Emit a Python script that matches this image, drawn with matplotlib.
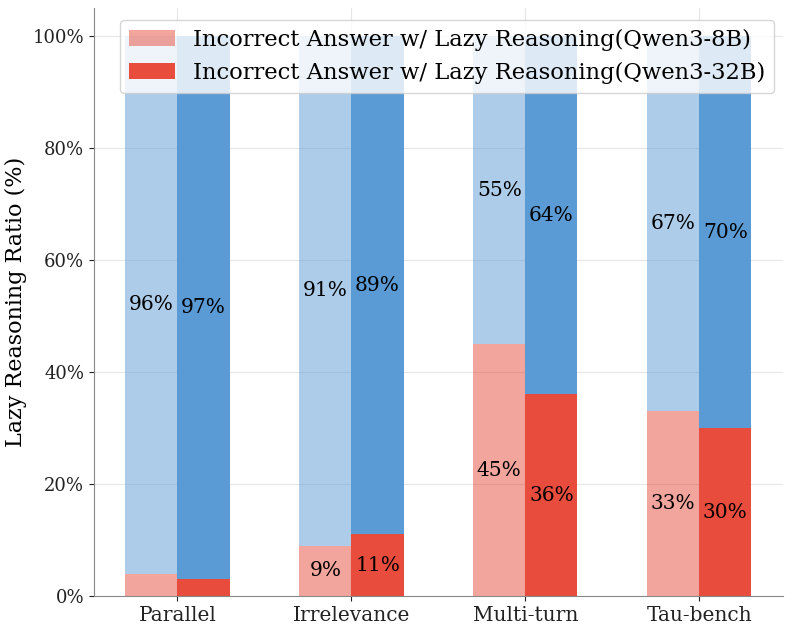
import numpy as np
import matplotlib.pyplot as plt

plt.rcParams['font.family'] = 'DejaVu Serif'

categories = ['Parallel', 'Irrelevance', 'Multi-turn', 'Tau-bench']
incorrect_8b = [4, 9, 45, 33]
incorrect_32b = [3, 11, 36, 30]
lazy_8b = [96, 91, 55, 67]
lazy_32b = [97, 89, 64, 70]

red = '#E74C3C'
blue = '#5B9BD5'


def main():
    x = np.arange(len(categories))
    w = 0.3
    fig, ax = plt.subplots(figsize=(7.93, 6.32), dpi=100)
    fig.subplots_adjust(left=0.1185, right=0.987, bottom=0.057, top=0.987)
    ax.set_axisbelow(True)
    ax.grid(True, color='#e6e6e6', linewidth=0.8)

    b1 = ax.bar(x - w/2, incorrect_8b, w, color=red, alpha=0.5,
                label='Incorrect Answer w/ Lazy Reasoning(Qwen3-8B)')
    b2 = ax.bar(x + w/2, incorrect_32b, w, color=red,
                label='Incorrect Answer w/ Lazy Reasoning(Qwen3-32B)')
    t1 = ax.bar(x - w/2, lazy_8b, w, bottom=incorrect_8b, color=blue, alpha=0.5)
    t2 = ax.bar(x + w/2, lazy_32b, w, bottom=incorrect_32b, color=blue)

    for bars in (b1, b2, t1, t2):
        for r in bars:
            h = r.get_height()
            if h > 5:
                ax.text(r.get_x() + r.get_width()/2, r.get_y() + h/2,
                        '%d%%' % round(h), ha='center', va='center', fontsize=14.5)

    ax.set_xticks(x)
    ax.set_xticklabels(categories, fontsize=14.5)
    ax.set_ylim(0, 105)
    ax.set_yticks([0, 20, 40, 60, 80, 100])
    ax.set_yticklabels(['%d%%' % v for v in [0, 20, 40, 60, 80, 100]], fontsize=13)
    ax.set_ylabel('Lazy Reasoning Ratio (%)', fontsize=16)
    for s in ('top', 'right'):
        ax.spines[s].set_visible(False)
    for s in ('left', 'bottom'):
        ax.spines[s].set_color('#888888')
    ax.tick_params(colors='#222222')
    ax.legend(loc='upper center', bbox_to_anchor=(0.513, 1.0), fontsize=16.3)
    plt.savefig('out.png')


if __name__ == '__main__':
    main()
